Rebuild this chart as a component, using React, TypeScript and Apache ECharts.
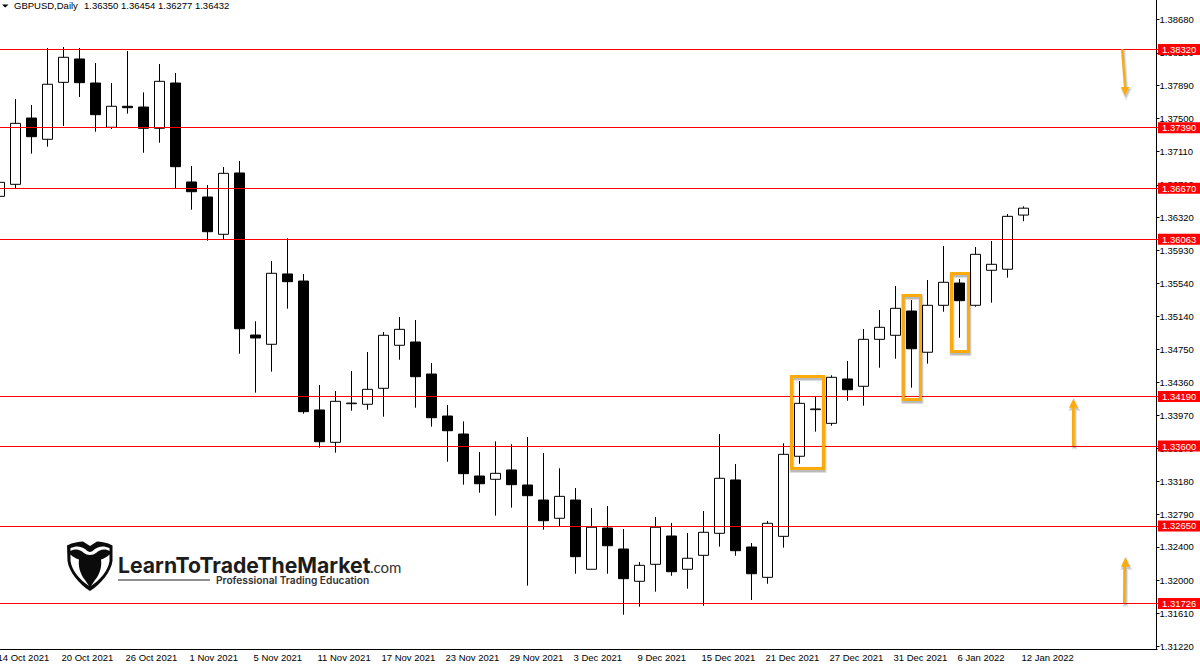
import React, { useEffect, useRef } from "react";
import * as echarts from "echarts";

const dates = [
  "14 Oct 2021","15 Oct 2021","18 Oct 2021","19 Oct 2021","20 Oct 2021","21 Oct 2021","22 Oct 2021","25 Oct 2021","26 Oct 2021",
  "27 Oct 2021","28 Oct 2021","29 Oct 2021","1 Nov 2021","2 Nov 2021","3 Nov 2021","4 Nov 2021","5 Nov 2021","8 Nov 2021",
  "9 Nov 2021","10 Nov 2021","11 Nov 2021","12 Nov 2021","15 Nov 2021","16 Nov 2021","17 Nov 2021","18 Nov 2021","19 Nov 2021",
  "22 Nov 2021","23 Nov 2021","24 Nov 2021","25 Nov 2021","26 Nov 2021","29 Nov 2021","30 Nov 2021","1 Dec 2021","2 Dec 2021",
  "3 Dec 2021","6 Dec 2021","7 Dec 2021","8 Dec 2021","9 Dec 2021","10 Dec 2021","13 Dec 2021","14 Dec 2021","15 Dec 2021",
  "16 Dec 2021","17 Dec 2021","20 Dec 2021","21 Dec 2021","22 Dec 2021","23 Dec 2021","24 Dec 2021","27 Dec 2021","28 Dec 2021",
  "29 Dec 2021","30 Dec 2021","31 Dec 2021","3 Jan 2022","4 Jan 2022","5 Jan 2022","6 Jan 2022","7 Jan 2022","10 Jan 2022",
  "11 Jan 2022","12 Jan 2022",
];
const emptySlots = ["", "", "", "", "", "", "", ""];

const opens = [
  1.36573,1.36716,1.37505,1.37252,1.37930,1.38208,1.37922,1.37395,1.37645,1.37636,1.37383,1.37922,1.36744,
  1.36565,1.36121,1.36851,1.34922,1.34812,1.35649,1.35565,1.34030,1.33645,1.34105,1.34098,1.34288,1.34800,
  1.34839,1.34458,1.33958,1.33744,1.33244,1.33205,1.33316,1.33137,1.32958,1.32741,1.32958,1.32134,1.32625,
  1.32375,1.31991,1.32193,1.32530,1.32134,1.32300,1.32562,1.33197,1.32399,1.32038,1.32526,1.33479,1.34034,
  1.33871,1.34399,1.34312,1.34871,1.34919,1.35208,1.34717,1.35276,1.35541,1.35276,1.35693,1.35705,1.36350,
];
const closes = [
  1.36740,1.37442,1.37283,1.37907,1.38228,1.37926,1.37545,1.37645,1.37628,1.37383,1.37942,1.36926,1.36628,
  1.36152,1.36847,1.34997,1.34887,1.35657,1.35557,1.34010,1.33652,1.34133,1.34112,1.34276,1.34919,1.34990,
  1.34426,1.33938,1.33783,1.33272,1.33152,1.33276,1.33141,1.33010,1.32712,1.33002,1.32284,1.32634,1.32414,
  1.32022,1.32181,1.32634,1.32105,1.32265,1.32574,1.33217,1.32355,1.32081,1.32681,1.33502,1.34109,1.34042,
  1.34419,1.34271,1.34871,1.35014,1.35240,1.34759,1.35276,1.35550,1.35331,1.35883,1.35764,1.36335,1.36432,
];
const lows = [
  1.36573,1.36669,1.37081,1.37164,1.37410,1.37755,1.37342,1.37375,1.37557,1.37092,1.37211,1.36669,1.36414,
  1.36045,1.36062,1.34700,1.34236,1.34486,1.35236,1.33986,1.33581,1.33522,1.34021,1.34033,1.33950,1.34628,
  1.34057,1.33831,1.33414,1.33141,1.33045,1.32772,1.32867,1.31939,1.32605,1.32649,1.32081,1.32134,1.32081,
  1.31593,1.31689,1.31867,1.32057,1.31903,1.31700,1.32403,1.32295,1.31768,1.31962,1.32391,1.33390,1.33772,
  1.33843,1.34140,1.34081,1.34533,1.34640,1.34295,1.34581,1.35200,1.34890,1.35259,1.35307,1.35605,1.36277,
];
const highs = [
  1.36740,1.37732,1.37660,1.38339,1.38351,1.38339,1.38160,1.37922,1.38303,1.37811,1.38148,1.38041,1.36934,
  1.36708,1.36922,1.36994,1.35086,1.35803,1.36074,1.35649,1.34327,1.34256,1.34494,1.34720,1.34958,1.35137,
  1.35101,1.34589,1.34089,1.33895,1.33530,1.33657,1.33622,1.33708,1.33518,1.33336,1.33101,1.32863,1.32887,
  1.32613,1.32220,1.32756,1.32685,1.32566,1.32828,1.33744,1.33387,1.32447,1.32709,1.33633,1.34375,1.34188,
  1.34443,1.34613,1.34994,1.35220,1.35506,1.35339,1.35577,1.35982,1.35589,1.35970,1.36041,1.36363,1.36454,
];

const priceTicks = [
  1.3868,1.3828,1.3789,1.375,1.3711,1.3671,1.3632,1.3593,1.3554,1.3514,1.3475,1.3436,1.3397,1.3357,1.3318,1.3279,1.324,1.32,1.3161,1.3122,
];
const levels = [1.3832, 1.3739, 1.3667, 1.36063, 1.3419, 1.336, 1.3265, 1.31726];
const lastPrice = 1.36432;
const headerSymbol = "GBPUSD,Daily";
const headerValues = "1.36350 1.36454 1.36277 1.36432";

const FONT = "'Liberation Sans', sans-serif";
const ORANGE = "#FDAB0B";

const BULL_BODY =
  "M67 545.5 C73 542.5 79 541.5 83 541.5 L90 546 L97 541.5 C101 541.5 107 542.5 112.5 545.5 L112.5 561 C111 572 101 584 90 591 C79 584 69 572 67.5 561 Z";
const BULL_HORNS =
  "M70.5 548 C76 545.5 81 546 85 549 C87 551 89 552 90 552 C91 552 93 551 95 549 C99 546 104 545.5 109.5 548 L109.5 551 C104 548.5 100 549.5 96 553 C93 555.5 87 555.5 84 553 C80 549.5 76 548.5 70.5 551 Z";
const BULL_LEFT =
  "M70.5 554.5 C73 557 76 558.5 79 559.5 C78 566 80 574 85 580 L89 586 C80 580 72 571 70.5 561 Z";
const BULL_RIGHT =
  "M109.5 554.5 C107 557 104 558.5 101 559.5 C102 566 100 574 95 580 L91 586 C100 580 108 571 109.5 561 Z";

echarts.graphic.registerShape("bullBody", echarts.graphic.extendPath(BULL_BODY, {}) as any);
echarts.graphic.registerShape("bullHorns", echarts.graphic.extendPath(BULL_HORNS, {}) as any);
echarts.graphic.registerShape("bullLeft", echarts.graphic.extendPath(BULL_LEFT, {}) as any);
echarts.graphic.registerShape("bullRight", echarts.graphic.extendPath(BULL_RIGHT, {}) as any);

function frame(x: number, y: number, width: number, height: number) {
  const shape = { x, y, width, height };
  return [
    {
      type: "rect",
      z: 19,
      shape: { x: x + 0.5, y: y + 2, width, height },
      style: { fill: "none", stroke: "rgba(0,0,0,0.13)", lineWidth: 5 },
    },
    {
      type: "rect",
      z: 19,
      shape: { x: x + 0.5, y: y + 2, width, height },
      style: { fill: "none", stroke: "rgba(0,0,0,0.16)", lineWidth: 3 },
    },
    { type: "rect", z: 20, shape, style: { fill: "none", stroke: ORANGE, lineWidth: 3 } },
  ];
}
function arrow(points: number[][]) {
  const off = points.map(([x, y]) => [x + 1, y + 2]);
  return [
    {
      type: "polygon",
      z: 19,
      shape: { points: off },
      style: { fill: "rgba(0,0,0,0.16)", stroke: "rgba(0,0,0,0.1)", lineWidth: 2.5 },
    },
    { type: "polygon", z: 20, shape: { points }, style: { fill: ORANGE } },
  ];
}

export default function App() {
  const ref = useRef<HTMLDivElement>(null);
  useEffect(() => {
    document.body.style.margin = "0";
    const chart = echarts.init(ref.current!, undefined, { renderer: "svg" });
    const levelLabel = {
      show: true,
      position: "end",
      distance: -1.5,
      formatter: (p: any) => Number(p.value).toFixed(5),
      color: "#fff",
      backgroundColor: "#ff0000",
      fontFamily: FONT,
      fontSize: 9.5,
      lineHeight: 9,
      padding: [1, 4, 1, 4],
    };
    chart.setOption({
      animation: false,
      backgroundColor: "#fff",
      grid: { left: -8.5, top: 0, width: 1168, height: 649.5, containLabel: false, outerBoundsMode: "none" },
      xAxis: {
        type: "category",
        data: [...dates, ...emptySlots],
        boundaryGap: true,
        axisLine: { lineStyle: { color: "#000", width: 1 } },
        axisTick: {
          alignWithLabel: true,
          length: 3,
          interval: (i: number) => i % 4 === 0 && i < dates.length,
          lineStyle: { color: "#000" },
        },
        axisLabel: {
          interval: 3,
          align: "left",
          margin: 3,
          padding: [0, 0, 0, -2],
          color: "#000",
          fontFamily: FONT,
          fontSize: 9.5,
          hideOverlap: false,
        },
        splitLine: { show: false },
      },
      yAxis: {
        type: "value",
        position: "right",
        offset: -3,
        min: 1.31179,
        max: 1.3891,
        axisLine: { show: true, lineStyle: { color: "#000", width: 1 } },
        axisTick: { show: true, length: 3, customValues: priceTicks, lineStyle: { color: "#000" } },
        axisLabel: {
          customValues: priceTicks,
          formatter: (v: number) => v.toFixed(5),
          margin: 3,
          color: "#000",
          fontFamily: FONT,
          fontSize: 9.5,
        },
        splitLine: { show: false },
      },
      series: [
        {
          type: "candlestick",
          barWidth: 10,
          data: opens.map((o, i) => [o, closes[i], lows[i], highs[i]]),
          itemStyle: {
            color: "#fff",
            color0: "#000",
            borderColor: "#000",
            borderColor0: "#000",
            borderWidth: 1,
          },
          markLine: {
            silent: true,
            symbol: "none",
            animation: false,
            precision: 5,
            lineStyle: { color: "#ff0000", width: 1, type: "solid" },
            data: [
              ...levels.map((v) => ({ yAxis: v, label: levelLabel })),
              {
                yAxis: lastPrice,
                lineStyle: { opacity: 0 },
                label: { ...levelLabel, backgroundColor: "#000" },
              },
            ],
          },
        },
      ],
      graphic: [
        { type: "rect", z: 1, shape: { x: 1157.5, y: 647, width: 4, height: 6 }, style: { fill: "#fff" } },
        { type: "polygon", z: 20, shape: { points: [[2, 4.5], [8.5, 4.5], [5.2, 7.5]] }, style: { fill: "#000" } },
        {
          type: "text",
          z: 20,
          x: 14,
          y: 5.5,
          style: { text: headerSymbol, fill: "#000", font: `9.5px ${FONT}`, textVerticalAlign: "middle" },
        },
        {
          type: "text",
          z: 20,
          x: 84,
          y: 5.5,
          style: { text: headerValues, fill: "#000", font: `9.5px ${FONT}`, textVerticalAlign: "middle" },
        },
        ...frame(791.5, 376.5, 32, 92),
        ...frame(903.2, 295.5, 17.3, 104),
        ...frame(951.5, 273.5, 17, 78),
        ...arrow([[1121, 49], [1123.4, 49], [1126, 87], [1129.3, 87], [1125, 96], [1121, 87], [1124, 87]]),
        ...arrow([[1072, 446], [1074.7, 446], [1074.7, 407.7], [1077.7, 407.7], [1073.3, 398.7], [1069, 407.7], [1072, 407.7]]),
        ...arrow([[1123, 603.3], [1125.7, 603.3], [1126, 566.7], [1129.7, 566.7], [1125.3, 557.3], [1121, 566.7], [1123.3, 566.7]]),
        { type: "bullBody", z: 20, style: { fill: "#0b0b0b" } },
        { type: "bullHorns", z: 21, style: { fill: "#fff" } },
        { type: "bullLeft", z: 21, style: { fill: "#fff" } },
        { type: "bullRight", z: 21, style: { fill: "#fff" } },
        {
          type: "text",
          z: 20,
          x: 118,
          y: 565,
          style: {
            text: "LearnToTradeTheMarket",
            fill: "#1c1c1c",
            font: `700 21.2px Inter, sans-serif`,
            textVerticalAlign: "middle",
          },
        },
        {
          type: "text",
          z: 20,
          x: 370,
          y: 567,
          style: { text: ".com", fill: "#333", font: `400 15px Lato, sans-serif`, textVerticalAlign: "middle" },
        },
        {
          type: "rect",
          z: 20,
          shape: { x: 118, y: 579.5, width: 92, height: 1 },
          style: { fill: "#222" },
        },
        {
          type: "text",
          z: 20,
          x: 216,
          y: 580,
          style: {
            text: "Professional Trading Education",
            fill: "#333",
            font: `600 10.2px Inter, sans-serif`,
            textVerticalAlign: "middle",
          },
        },
      ],
    });
    return () => chart.dispose();
  }, []);
  return <div ref={ref} style={{ width: 1200, height: 670 }} />;
}
